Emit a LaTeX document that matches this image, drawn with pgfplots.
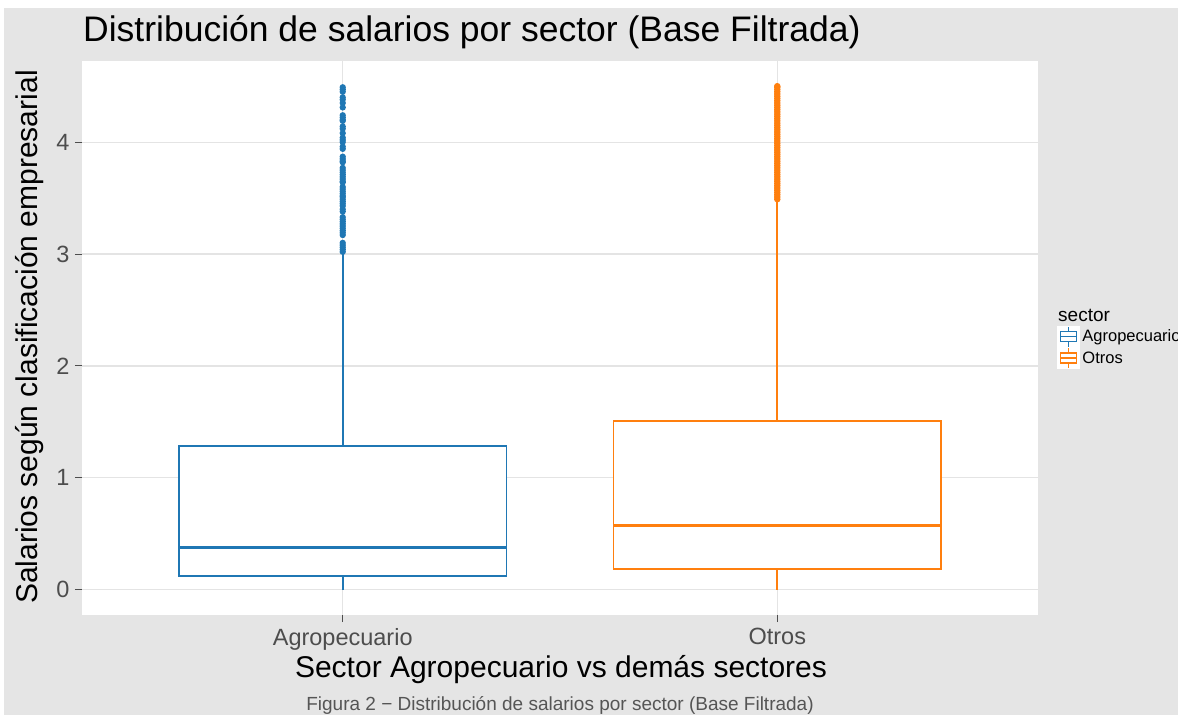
\documentclass[border=0pt]{standalone}
\usepackage{fontspec}
\setmainfont{Liberation Sans}
\usepackage{pgfplots}
\pgfplotsset{compat=1.18}
\usepgfplotslibrary{statistics}
\definecolor{agro}{HTML}{1F77B4}
\definecolor{otros}{HTML}{FF7F0E}
\definecolor{bggrey}{HTML}{E5E5E5}
\definecolor{gridgrey}{HTML}{E4E4E4}
\definecolor{tickgrey}{HTML}{4D4D4D}
\definecolor{capgrey}{HTML}{555555}
\begin{document}
\begin{tikzpicture}[x=1pt,y=1pt]
\useasboundingbox (0,0) rectangle (1178,715);
\fill[white] (0,0) rectangle (1178,715);
\fill[bggrey] (4,0) rectangle (1178,707);
\begin{axis}[
  at={(82pt,100pt)}, anchor=south west, scale only axis,
  width=956pt, height=554pt,
  xmin=0.4, xmax=2.6, ymin=-0.225, ymax=4.725,
  xtick={1,2}, xticklabels={Agropecuario,Otros},
  ytick={0,1,2,3,4},
  tick pos=left,
  axis line style={draw=none},
  axis background/.style={fill=white},
  grid=major, major grid style={gridgrey, line width=1.2pt},
  tick style={tickgrey, line width=1pt},
  tick align=outside, major tick length=7pt,
  xticklabel style={font=\fontsize{23.5}{28}\selectfont, text=tickgrey, yshift=-3pt},
  yticklabel style={font=\fontsize{23.5}{28}\selectfont, text=tickgrey, xshift=-2pt},
  /pgf/number format/assume math mode=true,
  boxplot/draw direction=y,
  boxplot/whisker extend=0,
  boxplot/every box/.append style={fill=white},
  boxplot/every median/.append style={line width=3pt},
  legend style={at={(axis description cs:1.0199,0.5217)}, anchor=north west,
    draw=none, fill=none, inner sep=0pt, outer sep=0pt,
    font=\fontsize{16.5}{19}\selectfont, row sep=0pt,
    /tikz/every odd column/.append style={column sep=1pt}},
  legend cell align=left,
]
% whiskers (Agropecuario)
\addplot[agro, line width=1.6pt, forget plot] coordinates {(1,0) (1,0.126)};
\addplot[agro, line width=1.6pt, forget plot] coordinates {(1,1.283) (1,3.02)};
% whiskers (Otros)
\addplot[otros, line width=1.6pt, forget plot] coordinates {(2,0) (2,0.188)};
\addplot[otros, line width=1.6pt, forget plot] coordinates {(2,1.507) (2,3.485)};
\addplot[boxplot prepared={draw position=1, lower whisker=0, lower quartile=0.126,
   median=0.377, upper quartile=1.283, upper whisker=3.02, box extend=0.754},
   draw=agro, line width=1.6pt, mark=*, mark size=2.3pt,
   mark options={fill=agro, draw=none}, forget plot]
  table[row sep=\\, y index=0] {
  y\\ 4.49\\ 4.47\\ 4.45\\ 4.40\\ 4.38\\ 4.35\\ 4.31\\ 4.24\\ 4.22\\ 4.20\\ 4.19\\
  4.14\\ 4.12\\ 4.08\\ 4.04\\ 4.02\\ 4.00\\ 3.96\\ 3.94\\ 3.87\\ 3.85\\ 3.83\\ 3.82\\
  3.77\\ 3.75\\ 3.73\\ 3.71\\ 3.69\\ 3.67\\ 3.65\\ 3.64\\ 3.60\\ 3.58\\ 3.56\\ 3.54\\
  3.52\\ 3.51\\ 3.49\\ 3.47\\ 3.45\\ 3.43\\ 3.40\\ 3.38\\ 3.33\\ 3.31\\ 3.29\\ 3.27\\
  3.25\\ 3.23\\ 3.21\\ 3.19\\ 3.17\\ 3.10\\ 3.08\\ 3.06\\ 3.04\\ 3.02\\
  };
\addplot[boxplot prepared={draw position=2, lower whisker=0, lower quartile=0.188,
   median=0.574, upper quartile=1.507, upper whisker=3.485, box extend=0.754},
   draw=otros, line width=1.6pt, mark=*, mark size=2.4pt,
   mark options={fill=otros, draw=none}, forget plot]
  table[row sep=\\, y index=0] {
  y\\ 3.49\\ 3.51\\ 3.53\\ 3.55\\ 3.57\\ 3.59\\ 3.61\\ 3.63\\ 3.65\\ 3.67\\ 3.69\\
  3.71\\ 3.73\\ 3.75\\ 3.77\\ 3.79\\ 3.81\\ 3.83\\ 3.85\\ 3.87\\ 3.89\\ 3.91\\ 3.93\\
  3.95\\ 3.97\\ 3.99\\ 4.01\\ 4.03\\ 4.05\\ 4.07\\ 4.09\\ 4.11\\ 4.13\\ 4.15\\ 4.17\\
  4.19\\ 4.21\\ 4.23\\ 4.25\\ 4.27\\ 4.29\\ 4.31\\ 4.33\\ 4.35\\ 4.37\\ 4.39\\ 4.41\\
  4.43\\ 4.45\\ 4.47\\ 4.49\\ 4.50\\
  };
\addlegendimage{legend image code/.code={
  \fill[white] (0pt,-10.5pt) rectangle (22pt,10.5pt);
  \draw[agro, line width=1.4pt] (3pt,-5pt) rectangle (19pt,5pt);
  \draw[agro, line width=1.4pt] (3pt,0pt) -- (19pt,0pt);
  \draw[agro, line width=1.4pt] (11pt,5pt) -- (11pt,10pt) (11pt,-5pt) -- (11pt,-10pt);
}}
\addlegendentry{Agropecuario}
\addlegendimage{legend image code/.code={
  \fill[white] (0pt,-10.5pt) rectangle (22pt,10.5pt);
  \draw[otros, line width=1.4pt] (3pt,-5pt) rectangle (19pt,5pt);
  \draw[otros, line width=1.4pt] (3pt,0pt) -- (19pt,0pt);
  \draw[otros, line width=1.4pt] (11pt,5pt) -- (11pt,10pt) (11pt,-5pt) -- (11pt,-10pt);
}}
\addlegendentry{Otros}
\end{axis}
\node[anchor=base west, inner sep=0pt, font=\fontsize{35.5}{40}\selectfont] at (83,673) {Distribución de salarios por sector (Base Filtrada)};
\node[rotate=90, inner sep=0pt, font=\fontsize{30}{34}\selectfont] at (30,378) {Salarios según clasificación empresarial};
\node[inner sep=0pt, font=\fontsize{30}{34}\selectfont] at (561,45) {Sector Agropecuario vs demás sectores};
\node[inner sep=0pt, font=\fontsize{19}{22}\selectfont, text=capgrey] at (560,10) {Figura 2 − Distribución de salarios por sector (Base Filtrada)};
\node[anchor=west, inner sep=0pt, font=\fontsize{19}{22}\selectfont] at (1058,400) {sector};
\end{tikzpicture}
\end{document}
